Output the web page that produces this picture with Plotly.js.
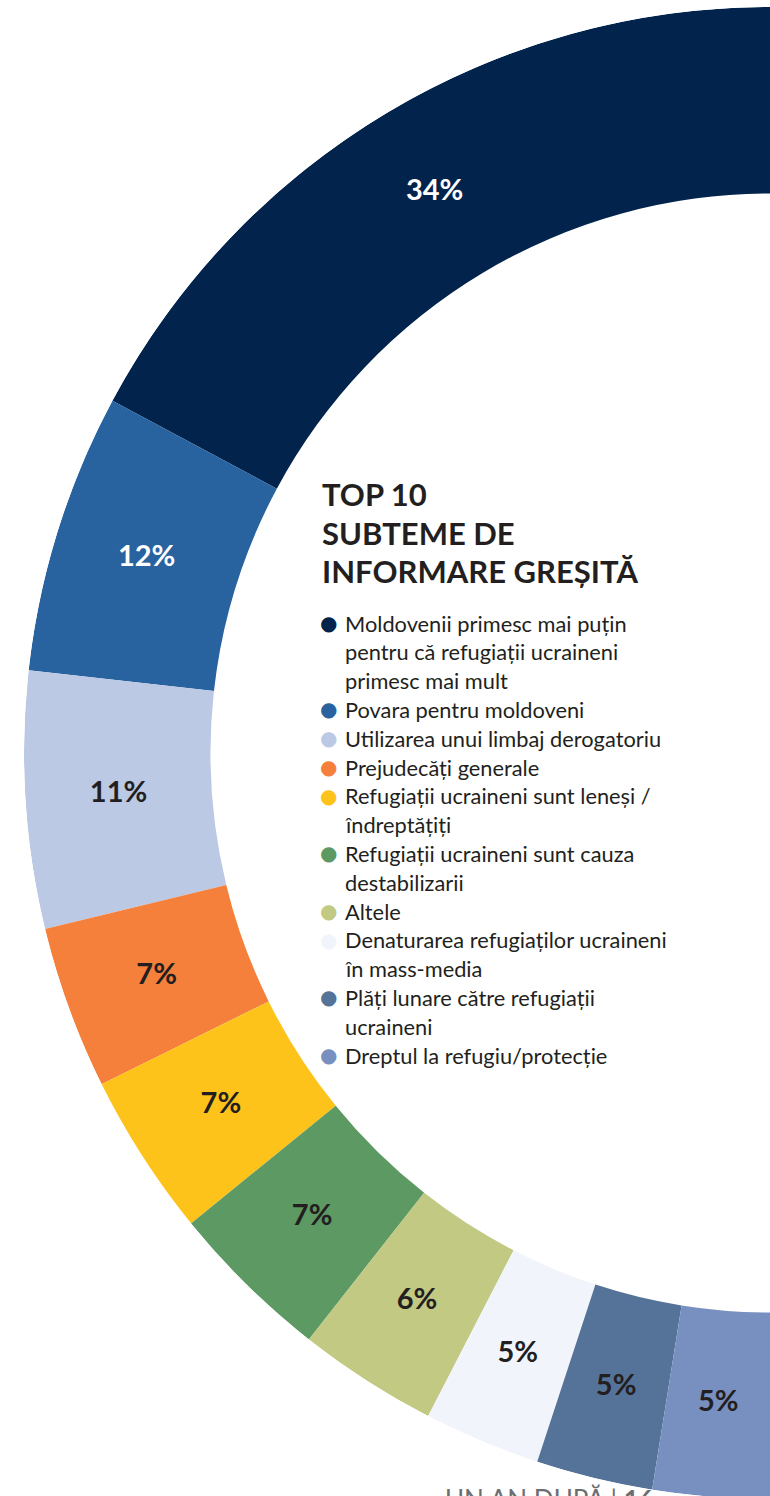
<!DOCTYPE html>
<html>
<head>
<meta charset="utf-8">
<script src="https://cdn.plot.ly/plotly-3.0.1.min.js"></script>
<style>
  html, body { margin: 0; padding: 0; overflow: hidden; background: #fff; }
  #wrap { width: 770px; height: 1496px; overflow: hidden; position: relative; }
  #chart { width: 1540px; height: 1506px; }
</style>
</head>
<body>
<div id="wrap"><div id="chart"></div></div>
<script>
// subteme de informare gresita, procente
var labels = [
  "Moldovenii primesc mai puțin<br>pentru că refugiații ucraineni<br>primesc mai mult",
  "Povara pentru moldoveni",
  "Utilizarea unui limbaj derogatoriu",
  "Prejudecăți generale",
  "Refugiații ucraineni sunt leneși /<br>îndreptățiți",
  "Refugiații ucraineni sunt cauza<br>destabilizarii",
  "Altele",
  "Denaturarea refugiaților ucraineni<br>în mass-media",
  "Plăți lunare către refugiații<br>ucraineni",
  "Dreptul la refugiu/protecție"
];
var values = [34, 12, 11, 7, 7, 7, 6, 5, 5, 5];
var colors = ["#01234c", "#2863a0", "#bbc9e5", "#f4803c", "#fec31b",
              "#5d9963", "#c1c983", "#f1f5fb", "#557399", "#7890c0"];
var textColors = ["#ffffff", "#ffffff", "#231f20", "#231f20", "#231f20",
                  "#231f20", "#231f20", "#231f20", "#231f20", "#231f20"];
var titleLines = ["TOP 10", "SUBTEME DE", "INFORMARE GREȘITĂ"];

var W = 1540, H = 1506;
function px(x) { return x / W; }
function py(y) { return 1 - y / H; }

// half ring (12 o'clock -> 6 o'clock), drawn as polar bars
var total = values.reduce((a, b) => a + b, 0);
var spans = values.map((v) => v * 180 / total);
var mids = [];
var acc = 0;
spans.forEach((s) => {
  mids.push(acc + s / 2);
  acc += s;
});

var ring = {
  type: "barpolar",
  theta: mids,
  width: spans,
  r: values.map(() => 0.25),
  base: values.map(() => 0.75),
  marker: { color: colors, line: { width: 0 } },
  hoverinfo: "none",
  showlegend: false,
};

var pct = {
  type: "scatterpolar",
  mode: "text",
  theta: mids,
  r: values.map(() => 0.875),
  text: values.map((v) => v + "%"),
  textposition: "middle center",
  textfont: {
    family: "Lato, sans-serif",
    size: 29,
    weight: 700,
    color: textColors,
  },
  hoverinfo: "none",
  showlegend: false,
};

var annotations = [];

titleLines.forEach((t, i) => {
  annotations.push({
    xref: "paper", yref: "paper",
    x: px(320), y: py(494 + i * 38.7),
    xanchor: "left", yanchor: "middle",
    text: "<b>" + t + "</b>",
    showarrow: false,
    font: { family: "Lato, sans-serif", size: 31, color: "#231f20" },
  });
});

var line = 0;
labels.forEach((lab, i) => {
  var parts = lab.split("<br>");
  var y0 = 623 + line * 28.8;
  annotations.push({
    xref: "paper", yref: "paper",
    x: px(328), y: py(y0),
    xanchor: "center", yanchor: "middle",
    text: "●",
    showarrow: false,
    font: { family: "DejaVu Sans", size: 20, color: colors[i] },
  });
  parts.forEach((p) => {
    annotations.push({
      xref: "paper", yref: "paper",
      x: px(343), y: py(623 + line * 28.8),
      xanchor: "left", yanchor: "middle",
      text: p,
      showarrow: false,
      font: { family: "Lato, sans-serif", size: 21.8, color: "#231f20" },
    });
    line++;
  });
});

annotations.push({
  xref: "paper", yref: "paper",
  x: px(443), y: py(1481),
  xanchor: "left", yanchor: "top",
  text: "UN AN DUPĂ | <b>16</b>",
  showarrow: false,
  font: { family: "Lato, sans-serif", size: 26, color: "#6d6e71" },
});

var layout = {
  width: W,
  height: H,
  margin: { l: 0, r: 0, t: 0, b: 0 },
  paper_bgcolor: "#ffffff",
  showlegend: false,
  polar: {
    domain: { x: [0, 1], y: [7 / H, 1 - 7 / H] },
    bgcolor: "rgba(0,0,0,0)",
    bargap: 0,
    radialaxis: { range: [0, 1], visible: false },
    angularaxis: { rotation: 90, direction: "counterclockwise", visible: false },
  },
  annotations: annotations,
};

Plotly.newPlot("chart", [ring, pct], layout, { staticPlot: true });
</script>
</body>
</html>
